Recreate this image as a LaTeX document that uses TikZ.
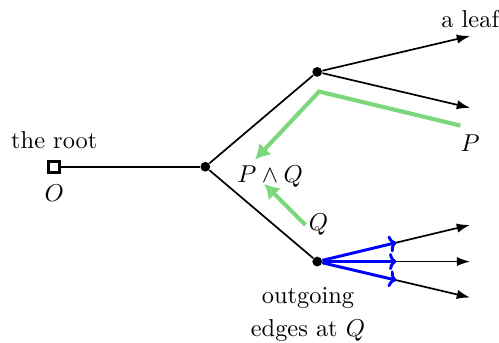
\documentclass[tikz,border=0pt]{standalone}
\usepackage{amsmath}
\usepackage{xcolor}
\usepackage{tikz}
\usetikzlibrary{positioning, arrows.meta}

\definecolor{pathgreen}{RGB}{125,216,125}

\begin{document}
\begin{tikzpicture}[
    rootbox/.style={draw, line width=1.2pt, fill=white, minimum size=4.6pt, inner sep=0pt},
    dot/.style={circle, fill, minimum size=4pt, inner sep=0pt},
    edge/.style={line width=0.7pt},
    leafedge/.style={edge, -{Latex[length=5.5pt, width=3.8pt]}},
    meet/.style={pathgreen, line width=1.7pt, -{Latex[length=6pt, width=7pt]}},
    outedge/.style={blue, line width=1.2pt, -{Computer Modern Rightarrow[length=3pt, width=7pt]}}
]
    \useasboundingbox (-0.782,-2.525) rectangle (6.406,2.402);

    % vertices
    \node[rootbox] (root) at (0, 0) {};
    \node[dot] (a) at (2.176, 0) {};
    \node[dot] (b) at (3.787, 1.366) {};
    \node[dot] (c) at (3.787, -1.366) {};

    % leaf ends
    \coordinate (l1) at (5.991, 1.884);
    \coordinate (l2) at (5.991, 0.848);
    \coordinate (l3) at (5.991, -0.838);
    \coordinate (l4) at (5.991, -1.366);
    \coordinate (l5) at (5.991, -1.884);

    % labels
    \node[above=1pt of root] (rootlbl) {the root};
    \node[below=1pt of root] (o) {$O$};
    \node[above=0pt of l1] (leaflbl) {a leaf};
    \node (p) at (5.991, 0.339) {$P$};
    \node (pq) at (3.109, -0.141) {$P \wedge Q$};
    \node (q) at (3.806, -0.838) {$Q$};
    \node[align=center] (outlbl) at (3.655, -2.13) {outgoing\\[1.5pt]edges at $Q$};

    % tree edges
    \draw[edge] (root) -- (a);
    \draw[edge] (a) -- (b);
    \draw[edge] (a) -- (c);
    \draw[leafedge] (b) -- (l1);
    \draw[leafedge] (b) -- (l2);
    \draw[leafedge] (c) -- coordinate[pos=.5] (m3) (l3);
    \draw[leafedge] (c) -- coordinate[pos=.5] (m4) (l4);
    \draw[leafedge] (c) -- coordinate[pos=.5] (m5) (l5);

    % meets
    \coordinate (gp) at (5.850, 0.593);
    \coordinate (gb) at (3.815, 1.083);
    \coordinate (gpq) at (2.892, 0.104);
    \coordinate (gq) at (3.617, -0.838);
    \coordinate (gqpq) at (3.024, -0.245);
    \draw[meet] (gp) -- (gb) -- (gpq);
    \draw[meet] (gq) -- (gqpq);

    % outgoing edges at Q
    \draw[outedge] (c) -- (m3);
    \draw[outedge] (c) -- (m4);
    \draw[outedge] (c) -- (m5);
\end{tikzpicture}
\end{document}
